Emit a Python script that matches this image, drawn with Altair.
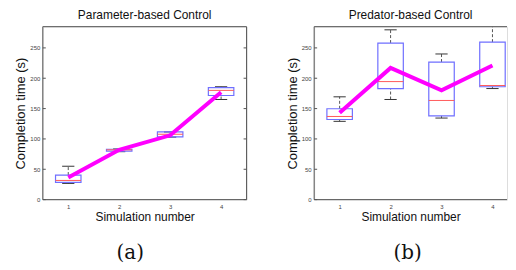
import altair as alt
import pandas as pd

sims = [1, 2, 3, 4]

# Panel (a): Parameter-based Control
a_wlo = [26.7, 79, 103, 165]
a_q1 = [28.5, 80, 103.5, 171.6]
a_med = [31.6, 82, 107.7, 180]
a_q3 = [40.5, 83, 111.5, 184.7]
a_whi = [55, 83.5, 111.5, 186]
a_line = [36.6, 82, 106, 177]

# Panel (b): Predator-based Control
b_wlo = [129, 165, 134.4, 183]
b_q1 = [132, 183, 138, 186]
b_med = [137, 194.5, 163.4, 188]
b_q3 = [149.7, 258, 226.7, 259.5]
b_whi = [169.4, 279.8, 240, 300]
b_line = [143, 217, 180, 221]

titles = ["Parameter-based Control", "Predator-based Control"]
captions = ["(a)", "(b)"]
y_ticks = [0, 50, 100, 150, 200, 250]

H = 174
FONT = "Liberation Sans"
FRAME = "#555"


def make_df(wlo, q1, med, q3, whi, line):
    return pd.DataFrame({"sim": sims, "wlo": wlo, "q1": q1, "med": med,
                         "q3": q3, "whi": whi, "mean": line})


def panel(df, title, caption, cap_x, W, xmax, right_border):
    xs = alt.Scale(domain=[0.5, xmax], nice=False, zero=False)
    ys = alt.Scale(domain=[0, 285], nice=False, zero=False)
    xaxis = alt.Axis(values=sims, format="d", labelFontSize=6, labelColor="#444",
                     ticks=False, labelPadding=4, domain=False, grid=False,
                     titleFontSize=12, titleFontWeight="normal", titlePadding=2,
                     titleFont=FONT, labelFont=FONT, titleColor="#111")
    yaxis = alt.Axis(values=y_ticks, labelFontSize=6, labelColor="#444",
                     ticks=False, labelPadding=3, domain=False, grid=False,
                     titleFontSize=13, titleFontWeight="normal", titlePadding=2,
                     titleFont=FONT, labelFont=FONT, titleColor="#111")

    def X(f):
        return alt.X(f"{f}:Q", scale=xs, axis=xaxis, title="Simulation number")

    def Y(f):
        return alt.Y(f"{f}:Q", scale=ys, axis=yaxis, title="Completion time (s)")

    base = alt.Chart(df).transform_calculate(
        bl="datum.sim - 0.25", br="datum.sim + 0.25",
        cl="datum.sim - 0.12", cr="datum.sim + 0.12")

    wh_up = base.mark_rule(color="#555", strokeDash=[3, 2], strokeWidth=1, clip=True).encode(
        x=X("sim"), y=Y("q3"), y2="whi:Q")
    wh_lo = base.mark_rule(color="#555", strokeDash=[3, 2], strokeWidth=1, clip=True).encode(
        x=X("sim"), y=Y("wlo"), y2="q1:Q")
    cap_up = base.mark_rule(color="#333", strokeWidth=1, clip=True).encode(
        x=X("cl"), x2="cr:Q", y=Y("whi"))
    cap_lo = base.mark_rule(color="#333", strokeWidth=1, clip=True).encode(
        x=X("cl"), x2="cr:Q", y=Y("wlo"))
    box = base.mark_rect(fillOpacity=0, stroke="#6f6fff", strokeWidth=1.2).encode(
        x=X("bl"), x2="br:Q", y=Y("q1"), y2="q3:Q")
    med = base.mark_rule(color="#ff5a5a", strokeWidth=1).encode(
        x=X("bl"), x2="br:Q", y=Y("med"))
    line = base.mark_line(color="#ff00ff", strokeWidth=4).encode(
        x=X("sim"), y=Y("mean"))

    # frame and inward ticks (MATLAB style)
    one = alt.Chart(pd.DataFrame({"k": [0]}))
    frame = [
        one.mark_rule(color=FRAME).encode(x=alt.value(0), x2=alt.value(W), y=alt.value(0)),
        one.mark_rule(color=FRAME).encode(x=alt.value(0), x2=alt.value(W), y=alt.value(H)),
        one.mark_rule(color=FRAME).encode(x=alt.value(0), y=alt.value(0), y2=alt.value(H)),
    ]
    tdf = alt.Chart(pd.DataFrame({"t": y_ticks}))
    ticks = [tdf.mark_rule(color=FRAME).encode(x=alt.value(0), x2=alt.value(3), y=Y("t"))]
    if right_border:
        frame.append(one.mark_rule(color=FRAME).encode(x=alt.value(W), y=alt.value(0), y2=alt.value(H)))
        ticks.append(tdf.mark_rule(color=FRAME).encode(x=alt.value(W - 3), x2=alt.value(W), y=Y("t")))

    cap = alt.Chart(pd.DataFrame({"c": [caption]})).mark_text(
        font="DejaVu Serif", fontSize=20, baseline="middle", align="center", color="#111"
    ).encode(text="c:N", x=alt.value(cap_x), y=alt.value(H + 54))

    layers = [wh_up, wh_lo, cap_up, cap_lo, box, med, line] + ticks + frame + [cap]
    return alt.layer(*layers).properties(
        width=W, height=H,
        title=alt.TitleParams(title, fontSize=12, fontWeight="normal", font=FONT,
                              color="#111", offset=4))


left = panel(make_df(a_wlo, a_q1, a_med, a_q3, a_whi, a_line), titles[0], captions[0],
             88, 205, 4.5, True)
right = panel(make_df(b_wlo, b_q1, b_med, b_q3, b_whi, b_line), titles[1], captions[1],
              94, 194, 0.5 + 194 / 51.25, False)

chart = alt.hconcat(left, right, spacing=38).properties(
    padding={"left": 6, "top": 0, "right": 0, "bottom": 0}
).configure_view(stroke=None).configure(background="white")

chart.save("out.html", embed_options={"renderer": "svg", "actions": False})
